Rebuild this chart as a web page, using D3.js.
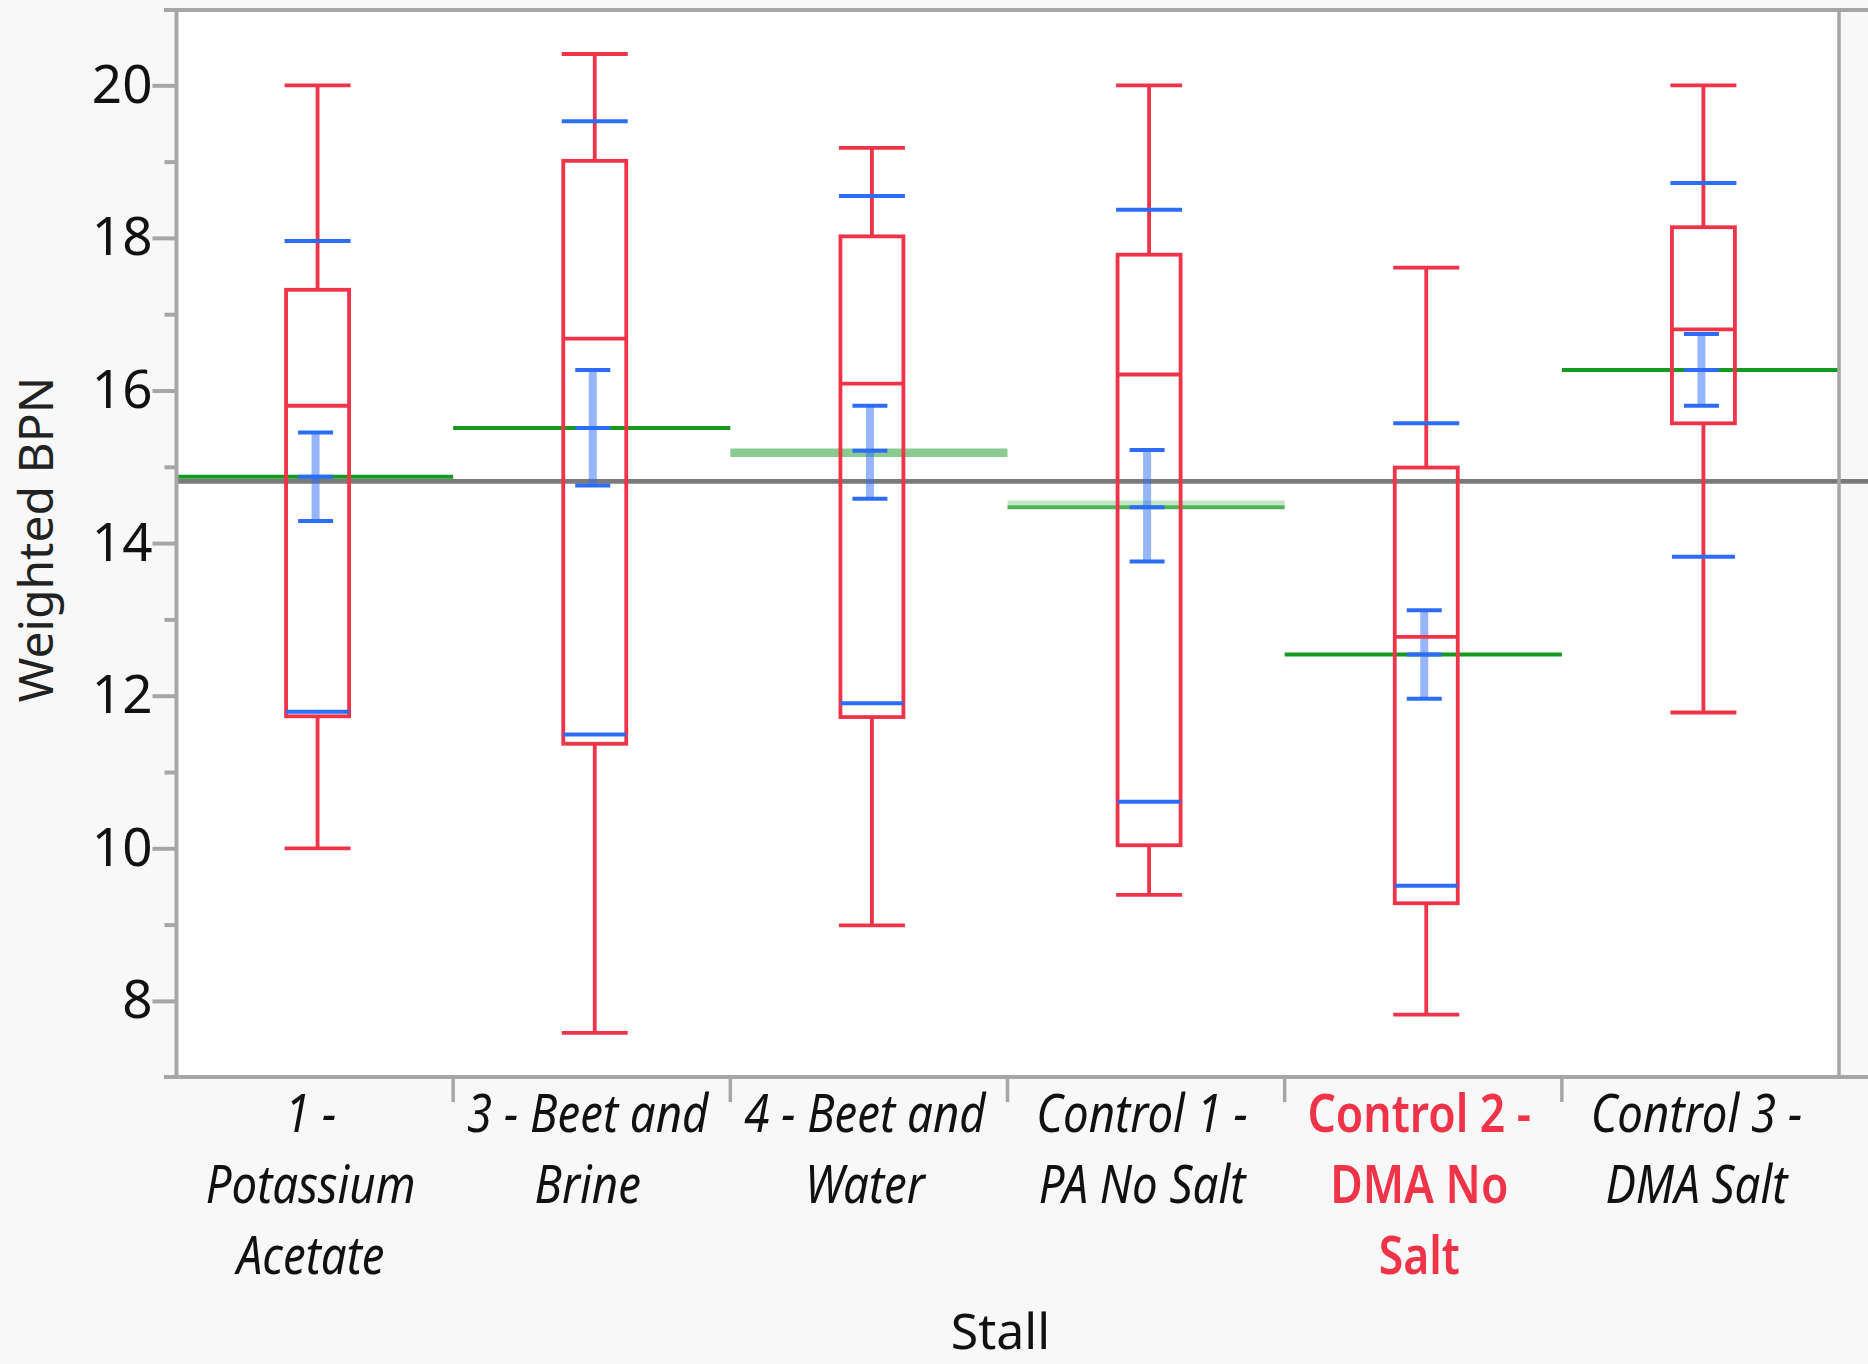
<!DOCTYPE html>
<html>
<head>
<meta charset="utf-8">
<script src="https://cdn.jsdelivr.net/npm/d3@7"></script>
<style>
  html, body { margin: 0; padding: 0; background: #F8F8F8; }
  svg { display: block; }
  text { font-family: "Noto Sans", "Open Sans", sans-serif; }
</style>
</head>
<body>
<svg id="chart" width="1868" height="1364"></svg>
<script>
// ---------------- data ----------------
const categories = ["1 - Potassium Acetate", "3 - Beet and Brine", "4 - Beet and Water",
                    "Control 1 - PA No Salt", "Control 2 - DMA No Salt", "Control 3 - DMA Salt"];
const categoryLabelLines = [["1 -", "Potassium", "Acetate"], ["3 - Beet and", "Brine"], ["4 - Beet and", "Water"],
                            ["Control 1 -", "PA No Salt"], ["Control 2 -", "DMA No", "Salt"], ["Control 3 -", "DMA Salt"]];
const whiskerLow  = [10.00, 7.58, 8.99, 9.39, 7.82, 11.78];
const quartile1   = [11.73, 11.37, 11.72, 10.04, 9.28, 15.57];
const medians     = [15.80, 16.68, 16.09, 16.21, 12.77, 16.80];
const quartile3   = [17.32, 19.01, 18.02, 17.78, 14.99, 18.14];
const whiskerHigh = [20.00, 20.41, 19.18, 20.00, 17.61, 20.00];
const means       = [14.87, 15.51, 15.21, 14.47, 12.54, 16.27];
const meanErrLow  = [14.29, 14.755, 14.58, 13.76, 11.96, 15.80];
const meanErrHigh = [15.45, 16.27, 15.80, 15.22, 13.12, 16.74];
const sdLow       = [11.79, 11.49, 11.90, 10.61, 9.51, 13.82];
const sdHigh      = [17.96, 19.53, 18.55, 18.37, 15.57, 18.72];
const grandMean   = 14.81;
const yMajorTicks = [8, 10, 12, 14, 16, 18, 20];
const yMinorTicks = [9, 11, 13, 15, 17, 19];
const highlighted = "Control 2 - DMA No Salt";
const yTitle = "Weighted BPN";
const xTitle = "Stall";

// ---------------- styles ----------------
const RED = "#EF3449", BLUE = "#2D6CF8", GREEN = "#16991F", AXIS = "#A6A6A6", MEANGRAY = "#7A7A7A";
const meanLineStyle = ["solid", "solid", "pale", "halo", "solid", "solid"];

// ---------------- layout ----------------
const svg = d3.select("#chart");
const plot = { left: 176, right: 1839, top: 10, bottom: 1077 };

const x = d3.scaleBand().domain(categories).range([plot.left, plot.right]).padding(0);
const y = d3.scaleLinear().domain([7, 21]).range([1077.2, 9.0]);

svg.append("rect").attr("width", 1868).attr("height", 1364).attr("fill", "#F8F8F8");
svg.append("rect").attr("x", plot.left).attr("y", plot.top)
   .attr("width", plot.right - plot.left).attr("height", plot.bottom - plot.top).attr("fill", "#FFFFFF");

const rows = categories.map((c, i) => ({
  cat: c, i, lo: whiskerLow[i], q1: quartile1[i], med: medians[i], q3: quartile3[i], hi: whiskerHigh[i],
  mean: means[i], eLo: meanErrLow[i], eHi: meanErrHigh[i], sLo: sdLow[i], sHi: sdHigh[i]
}));

const cx = d => x(d.cat) + x.bandwidth() / 2 + 3;
const BOXHW = 31.5, CAPHW = 33, EHW = 17.5;

// group mean lines (green)
const gm = svg.append("g");
rows.forEach(d => {
  const st = meanLineStyle[d.i];
  const x0 = x(d.cat), x1 = x(d.cat) + x.bandwidth();
  if (st === "solid") {
    gm.append("line").attr("x1", x0).attr("x2", x1).attr("y1", y(d.mean)).attr("y2", y(d.mean))
      .attr("stroke", GREEN).attr("stroke-width", 4);
  } else if (st === "pale") {
    gm.append("line").attr("x1", x0).attr("x2", x1).attr("y1", y(d.mean) + 2).attr("y2", y(d.mean) + 2)
      .attr("stroke", GREEN).attr("stroke-opacity", 0.5).attr("stroke-width", 8.6);
  } else {
    gm.append("line").attr("x1", x0).attr("x2", x1).attr("y1", y(d.mean) - 4.3).attr("y2", y(d.mean) - 4.3)
      .attr("stroke", GREEN).attr("stroke-opacity", 0.25).attr("stroke-width", 4.8);
    gm.append("line").attr("x1", x0).attr("x2", x1).attr("y1", y(d.mean)).attr("y2", y(d.mean))
      .attr("stroke", GREEN).attr("stroke-opacity", 0.75).attr("stroke-width", 4);
  }
});

// overall mean line
svg.append("line").attr("x1", plot.left).attr("x2", 1868).attr("y1", y(grandMean)).attr("y2", y(grandMean))
   .attr("stroke", MEANGRAY).attr("stroke-width", 4.7);

// mean error bars (light)
svg.append("g").selectAll("line").data(rows).join("line")
   .attr("x1", d => cx(d) - 2).attr("x2", d => cx(d) - 2)
   .attr("y1", d => y(d.eLo)).attr("y2", d => y(d.eHi))
   .attr("stroke", BLUE).attr("stroke-opacity", 0.5).attr("stroke-width", 8);

// box plots
const bx = svg.append("g").attr("fill", "none").attr("stroke", RED).attr("stroke-width", 3.8);
bx.selectAll(".wh").data(rows).join("line").attr("class", "wh")
  .attr("x1", cx).attr("x2", cx).attr("y1", d => y(d.q3)).attr("y2", d => y(d.hi));
bx.selectAll(".wl").data(rows).join("line").attr("class", "wl")
  .attr("x1", cx).attr("x2", cx).attr("y1", d => y(d.q1)).attr("y2", d => y(d.lo));
bx.selectAll(".ch").data(rows).join("line").attr("class", "ch")
  .attr("x1", d => cx(d) - CAPHW).attr("x2", d => cx(d) + CAPHW).attr("y1", d => y(d.hi)).attr("y2", d => y(d.hi));
bx.selectAll(".cl").data(rows).join("line").attr("class", "cl")
  .attr("x1", d => cx(d) - CAPHW).attr("x2", d => cx(d) + CAPHW).attr("y1", d => y(d.lo)).attr("y2", d => y(d.lo));
bx.selectAll(".bx").data(rows).join("rect").attr("class", "bx")
  .attr("x", d => cx(d) - BOXHW).attr("width", 2 * BOXHW)
  .attr("y", d => y(d.q3)).attr("height", d => y(d.q1) - y(d.q3));
bx.selectAll(".md").data(rows).join("line").attr("class", "md")
  .attr("x1", d => cx(d) - BOXHW).attr("x2", d => cx(d) + BOXHW).attr("y1", d => y(d.med)).attr("y2", d => y(d.med));

// std dev lines and mean error caps (blue)
const bl = svg.append("g").attr("stroke", BLUE).attr("stroke-width", 4);
[["sLo", CAPHW - 1.5], ["sHi", CAPHW]].forEach(([k, hw]) => {
  bl.selectAll("." + k).data(rows).join("line").attr("class", k)
    .attr("x1", d => cx(d) - hw).attr("x2", d => cx(d) + hw).attr("y1", d => y(d[k])).attr("y2", d => y(d[k]));
});
["eLo", "eHi", "mean"].forEach(k => {
  bl.selectAll("." + k).data(rows).join("line").attr("class", k)
    .attr("x1", d => cx(d) - 2 - EHW).attr("x2", d => cx(d) - 2 + EHW).attr("y1", d => y(d[k])).attr("y2", d => y(d[k]));
});

// frame
const fr = svg.append("g").attr("stroke", AXIS);
fr.append("line").attr("x1", 164).attr("x2", 1868).attr("y1", plot.top).attr("y2", plot.top).attr("stroke-width", 4);
fr.append("line").attr("x1", 164).attr("x2", 1868).attr("y1", plot.bottom).attr("y2", plot.bottom).attr("stroke-width", 4);
fr.append("line").attr("x1", plot.left + 0.5).attr("x2", plot.left + 0.5).attr("y1", plot.top).attr("y2", plot.bottom).attr("stroke-width", 4);
fr.append("line").attr("x1", plot.right).attr("x2", plot.right).attr("y1", plot.top).attr("y2", plot.bottom).attr("stroke-width", 3.5);

// y axis (major + minor)
const yMajor = svg.append("g").attr("transform", `translate(${plot.left + 0.5},0)`)
  .call(d3.axisLeft(y).tickValues(yMajorTicks).tickSize(24).tickPadding(0).tickFormat(d3.format("d")));
const yMinor = svg.append("g").attr("transform", `translate(${plot.left + 0.5},0)`)
  .call(d3.axisLeft(y).tickValues(yMinorTicks).tickSize(12).tickFormat(""));
[yMajor, yMinor].forEach(g => {
  g.select(".domain").remove();
  g.selectAll(".tick line").attr("stroke", AXIS).attr("stroke-width", 4);
});
yMajor.selectAll(".tick text").attr("fill", "#111").style("font-size", "53px")
  .style("font-family", '"Noto Sans", sans-serif');

// x axis separators
svg.append("g").selectAll("line").data(categories.slice(1)).join("line")
  .attr("x1", d => x(d)).attr("x2", d => x(d)).attr("y1", plot.bottom).attr("y2", plot.bottom + 25)
  .attr("stroke", AXIS).attr("stroke-width", 3.5);

// category labels
const lab = svg.append("g");
categories.forEach((c, i) => {
  const hl = c === highlighted;
  const t = lab.append("text")
    .attr("transform", `translate(${x(c) + x.bandwidth() / 2 - 4},1132) scale(${hl ? 0.84 : 0.86},1)`)
    .attr("text-anchor", "middle")
    .style("font-size", "53px")
    .style("font-style", hl ? "normal" : "italic")
    .style("font-weight", hl ? "600" : "normal")
    .attr("fill", hl ? RED : "#111");
  categoryLabelLines[i].forEach((ln, j) => {
    t.append("tspan").attr("x", 0).attr("y", j * 71.2).text(ln);
  });
});

// axis titles
svg.append("text").attr("x", (plot.left + plot.right) / 2 - 7).attr("y", 1349)
  .attr("text-anchor", "middle").style("font-size", "50px").attr("fill", "#111").text(xTitle);
svg.append("text").attr("transform", `translate(53,${(plot.top + plot.bottom) / 2 - 4}) rotate(-90)`)
  .attr("text-anchor", "middle").style("font-size", "48px").attr("fill", "#222").text(yTitle);
</script>
</body>
</html>
